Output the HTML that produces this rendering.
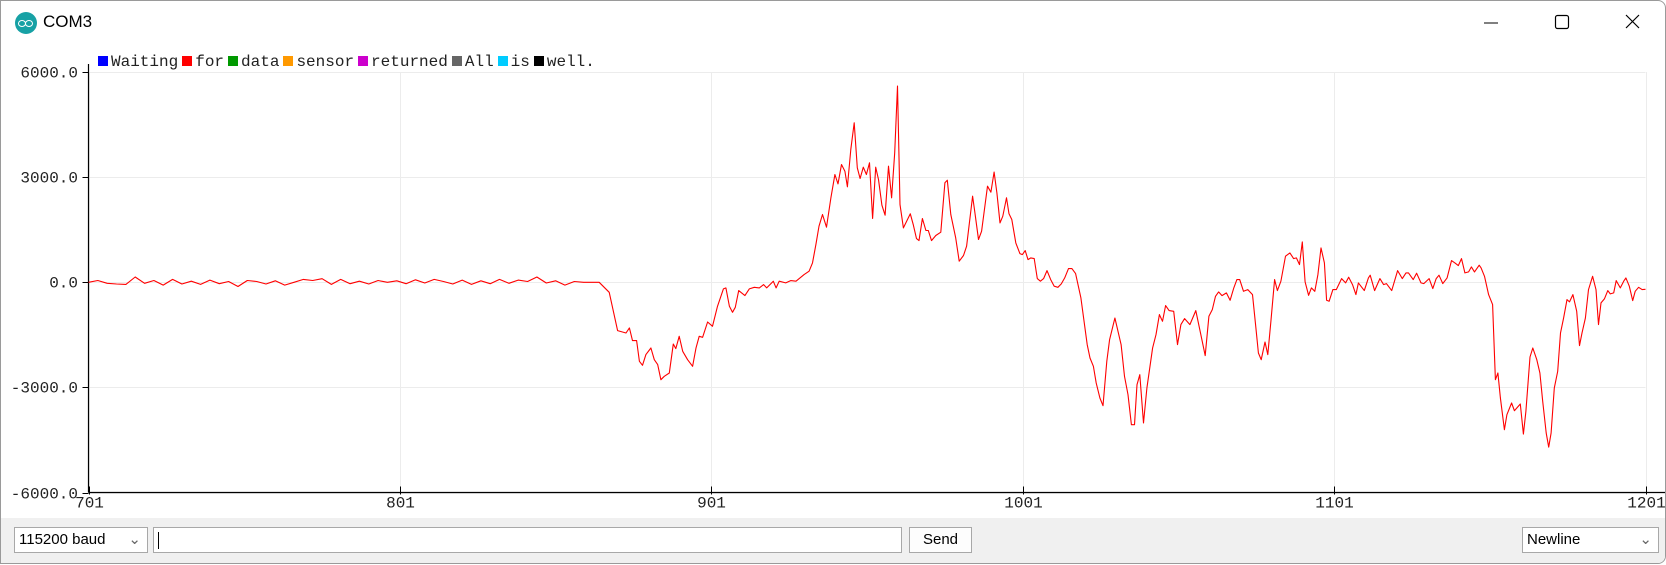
<!DOCTYPE html>
<html><head><meta charset="utf-8">
<style>
html,body{margin:0;padding:0;background:#fff;}
body{width:1666px;height:565px;position:relative;overflow:hidden;font-family:"Liberation Sans",sans-serif;}
#win{position:absolute;left:0;top:0;width:1664px;height:562px;border:1px solid #9a9a9a;border-radius:0 8px 8px 0;background:#fff;overflow:hidden;}
#title{position:absolute;left:0;top:0;width:100%;height:44px;}
#icon{position:absolute;left:14px;top:11px;width:22px;height:22px;border-radius:50%;background:#17a1a5;}
#icon span{position:absolute;top:8px;width:6px;height:5px;border:1.5px solid #fff;border-radius:50%;}
#ttext{position:absolute;left:42px;top:11px;font-size:17px;color:#000;}
.wbtn{position:absolute;top:8px;width:30px;height:26px;}
#legend{position:absolute;left:97px;top:52px;font-family:"Liberation Mono",monospace;font-size:16px;color:#222;white-space:nowrap;}
.sq{display:inline-block;width:10px;height:10px;margin:0 3px 0 0;vertical-align:0px;}
.lt{margin-right:4px;}
#bottom{position:absolute;left:0;top:517px;width:100%;height:46px;background:#f0f0f0;}
.box{position:absolute;background:#fff;border:1px solid #a8a8a8;font-size:15px;box-sizing:border-box;}
</style></head>
<body>
<div id="win">
 <div id="title">
  <div id="icon"><span style="left:3px"></span><span style="left:10px"></span></div>
  <div id="ttext">COM3</div>
  <svg class="wbtn" style="left:1475px" width="30" height="26"><line x1="8" y1="14" x2="22" y2="14" stroke="#000" stroke-width="1"/></svg>
  <svg class="wbtn" style="left:1546px" width="30" height="26"><rect x="8.5" y="6.5" width="13" height="13" rx="2" fill="none" stroke="#000" stroke-width="1.2"/></svg>
  <svg class="wbtn" style="left:1617px" width="30" height="26"><path d="M8 6 L21 19 M21 6 L8 19" stroke="#000" stroke-width="1.2"/></svg>
 </div>
 <div id="legend">
  <span><span class="sq" style="background:#0000ff"></span><span class="lt">Waiting</span></span><span><span class="sq" style="background:#ff0000"></span><span class="lt">for</span></span><span><span class="sq" style="background:#009900"></span><span class="lt">data</span></span><span><span class="sq" style="background:#ff9900"></span><span class="lt">sensor</span></span><span><span class="sq" style="background:#cc00cc"></span><span class="lt">returned</span></span><span><span class="sq" style="background:#666666"></span><span class="lt">All</span></span><span><span class="sq" style="background:#00ccff"></span><span class="lt">is</span></span><span><span class="sq" style="background:#000"></span><span class="lt">well.</span></span>
 </div>
 <svg id="chart" width="1666" height="517" style="position:absolute;left:0;top:0"></svg>
 <div id="bottom">
  <div class="box" style="left:13px;top:9px;width:134px;height:26px;padding:3px 4px">115200 baud<span style="position:absolute;right:6px;top:2px;color:#666">&#8964;</span></div>
  <div class="box" style="left:152px;top:9px;width:749px;height:26px"><div style="position:absolute;left:4px;top:4px;width:1px;height:17px;background:#000"></div></div>
  <div class="box" style="left:908px;top:9px;width:63px;height:26px;padding:3px 0;text-align:center;background:#fdfdfd">Send</div>
  <div class="box" style="left:1521px;top:9px;width:137px;height:26px;padding:3px 4px">Newline<span style="position:absolute;right:6px;top:2px;color:#666">&#8964;</span></div>
 </div>
</div>
<script>
const sampleIdx = [701,704,707,710,713,716,719,722,725,728,731,734,737,740,743,746,749,752,755,758,761,764,767,770,773,776,779,782,785,788,791,794,797,800,803,806,809,812,815,818,821,824,827,830,833,836,839,842,845,848,851,854,857,860,863,865,
868.2,870.9,873.6,874.7,875.7,877.0,877.9,878.9,880.0,881.6,882.7,883.8,884.8,885.9,887.5,888.8,889.6,890.7,891.8,893.4,895.0,896.1,897.1,898.2,899.8,901.4,903.0,904.9,905.7,906.8,907.8,908.7,909.8,911.8,913.2,914.8,916.4,917.8,918.8,920.9,921.8,922.8,924.9,926.5,928.2,930.8,932.4,933.5,934.6,935.6,936.7,938.0,939.4,940.7,941.7,942.8,943.9,944.7,945.8,946.9,947.9,948.8,949.8,950.8,951.8,952.8,953.8,954.7,955.8,956.8,957.9,958.9,959.9,960.8,961.6,962.7,964.9,965.9,966.9,967.7,968.8,969.9,970.7,971.7,973.1,974.7,976.0,976.8,977.9,979.5,980.6,982.0,983.0,984.9,985.6,986.8,987.8,989.7,990.8,991.8,992.7,993.7,994.6,995.8,996.6,997.5,998.8,1000.1,1000.9,1001.8,1002.7,1003.6,1004.7,1005.7,
1006.7,1007.7,1008.8,1010.0,1011.1,1012.3,1013.4,1014.5,1015.7,1016.8,1018.0,1019.7,1021.7,1022.6,1023.7,1024.6,1025.8,1026.8,1028.0,1028.9,1030.6,1032.6,1033.7,1034.8,1035.9,1036.9,1037.7,1038.6,1039.8,1040.9,1042.7,1043.8,1044.9,1045.9,1046.9,1048.0,1049.5,1050.7,1051.8,1053.0,1054.7,1056.6,1058.1,1059.6,1060.8,1061.9,1062.9,1063.9,1065.0,1066.4,1067.6,1068.8,1069.8,1070.7,1071.9,1073.3,1074.8,1075.9,1076.7,1077.6,1078.8,1079.7,1080.7,1081.9,1082.8,1083.9,1085.4,1086.8,1088.0,1088.9,1089.9,1090.8,1091.7,1092.8,1093.7,1094.8,1095.8,1096.8,1097.9,1098.6,1099.4,1100.6,1101.7,1103.4,1104.7,1105.7,1106.9,1108.0,1108.8,1110.7,1112.0,1112.6,1114.0,1115.7,1116.9,1117.8,1119.5,1121.4,1122.9,1124.1,1124.9,1126.4,1127.5,1128.9,1129.8,1131.5,1132.7,1133.8,1134.7,1135.9,1137.3,1138.7,1139.8,1140.9,1141.9,1143.0,1144.2,1145.1,1146.1,1147.6,
1148.2,1149.3,1150.6,1151.9,1152.8,1153.6,1154.4,1155.7,1156.5,1158.0,1158.9,1160.8,1161.8,1162.6,1163.9,1164.8,1166.1,1167.1,1168.0,1169.1,1169.9,1170.7,1171.7,1172.8,1173.7,1174.7,1175.8,1176.6,1177.7,1178.9,1179.8,1180.6,1181.7,1182.7,1184.0,1185.1,1185.9,1186.7,1187.8,1188.9,1189.7,1190.8,1191.6,1192.9,1194.0,1194.7,1195.8,1196.9,1197.7,1198.8,1199.9,1201];
const sensorValues = [0,50,-30,-50,-60,150,-30,50,-80,80,-50,30,-60,60,-40,20,-120,50,20,-50,40,-80,0,80,50,100,-60,80,-40,30,-50,50,0,40,-40,70,-20,80,20,-50,60,-60,40,-40,80,-30,60,20,150,-20,40,-80,20,0,0,0,
-286,-1380,-1447,-1304,-1666,-1666,-2256,-2370,-2066,-1875,-2209,-2351,-2780,-2685,-2589,-1761,-1894,-1542,-1971,-2209,-2399,-1875,-1542,-1571,-1133,-1257,-685,-190,-162,-685,-857,-714,-238,-381,-190,-143,-162,-67,-162,29,-162,29,-19,48,29,219,314,552,1076,1599,1933,1571,2409,3075,2808,3361,3170,2723,3789,4551,3265,2961,3284,3075,3408,1818,3284,2932,2199,1914,3313,2409,3694,5598,2218,1552,1952,1628,1247,1190,1818,1476,1476,1190,1333,1428,2837,2913,1933,1266,600,762,1028,2456,2028,1219,1457,2742,2570,3142,2551,1695,1885,2409,1952,1790,1123,819,790,904,647,695,676,105,
29,105,333,76,-114,-143,-48,124,390,390,248,-447,-1780,-2161,-2399,-2875,-3303,-3522,-2256,-1637,-1019,-1780,-2685,-3208,-4065,-4065,-2923,-2637,-4017,-3018,-1875,-1495,-923,-1114,-666,-809,-828,-1780,-1209,-1038,-1209,-809,-1447,-2094,-971,-781,-400,-276,-381,-305,-514,-162,76,76,-257,-209,-352,-1304,-2018,-2209,-1704,-2066,-1114,76,-238,29,743,838,676,695,505,1152,10,-371,-162,-257,219,981,552,-514,-543,-209,-209,105,-19,143,-67,-352,-19,-238,124,200,-238,105,-67,-38,-238,333,105,267,267,76,257,-19,-38,105,-181,105,200,-38,124,619,552,476,676,267,295,438,295,486,
410,171,-352,-638,-2780,-2589,-3303,-4208,-3779,-3446,-3665,-3474,-4332,-3684,-2132,-1875,-2209,-2589,-3398,-4303,-4703,-4303,-3018,-2542,-1447,-1019,-495,-562,-352,-828,-1809,-1447,-1019,-209,171,-209,-1209,-590,-476,-238,-333,-305,48,-162,29,124,-114,-524,-257,-143,-209,-200];
const yTickValues = [6000,3000,0,-3000,-6000];
const yTickLabels = ["6000.0","3000.0","0.0","-3000.0","-6000.0"];
const xTickValues = [701,801,901,1001,1101,1201];
const xTickLabels = ["701","801","901","1001","1101","1201"];

const NS="http://www.w3.org/2000/svg";
const svg=document.getElementById('chart');
const X0=87.5,X1=1644.5,Y0=71,Y1=491.5;
const xMin=701,xMax=1201,yMin=-6000,yMax=6000;
function xScale(i){return X0+(i-xMin)*(X1-X0)/(xMax-xMin);}
function yScale(v){return Y1-(v-yMin)*(Y1-Y0)/(yMax-yMin);}
function mk(tag,attrs){const e=document.createElementNS(NS,tag);for(const k in attrs)e.setAttribute(k,attrs[k]);svg.appendChild(e);return e;}

yTickValues.forEach((v,k)=>{
  const y=Math.round(yScale(v))+0.5;
  const g=mk('line',{x1:X0,x2:X1,y1:y,y2:y,stroke:'#ececec','stroke-width':1});
  
  
  const t=mk('line',{x1:X0-6,x2:X0,y1:y,y2:y,stroke:'#000','stroke-width':1});
  
  
  const tx=mk('text',{x:77,y:y+5,'text-anchor':'end','font-family':'Liberation Mono, monospace','font-size':16,fill:'#222'});
  tx.textContent=yTickLabels[k];
  
  
});
xTickValues.forEach((v,k)=>{
  const x=Math.round(xScale(v))+0.5;
  const g=mk('line',{x1:x,x2:x,y1:Y0,y2:Y1,stroke:'#ececec','stroke-width':1});
  
  
  const t=mk('line',{x1:x,x2:x,y1:Y1-6,y2:Y1+2,stroke:'#000','stroke-width':1});
  
  
  const tx=mk('text',{x:x,y:Y1+15,'text-anchor':'middle','font-family':'Liberation Mono, monospace','font-size':16,fill:'#222'});
  tx.textContent=xTickLabels[k];
  
  
});
const ax=mk('line',{x1:X0,x2:X0,y1:Y0-8,y2:Y1,stroke:'#000','stroke-width':1.2});


const bx=mk('line',{x1:X0,x2:X1+20,y1:Y1,y2:Y1,stroke:'#000','stroke-width':1.2});



const pts=sampleIdx.map((i,k)=>xScale(i).toFixed(1)+','+yScale(sensorValues[k]).toFixed(1)).join(' ');
const pl=mk('polyline',{points:pts,fill:'none',stroke:'#ff0000','stroke-width':1.1,'stroke-linejoin':'round'});


</script>
</body></html>
